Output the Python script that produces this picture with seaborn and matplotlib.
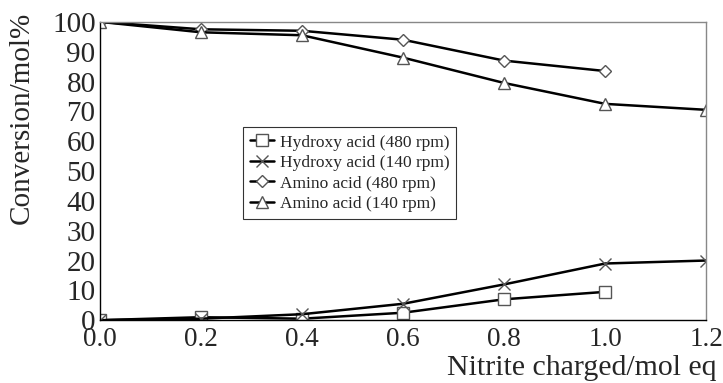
import pandas as pd
import matplotlib
matplotlib.use("Agg")
import matplotlib.pyplot as plt
import seaborn as sns

# values
nitrite = [0.0, 0.2, 0.4, 0.6, 0.8, 1.0, 1.2]
hydroxy_480 = [0, 1, 0.5, 2.5, 7, 9.5]
hydroxy_140 = [0, 0.5, 2, 5.5, 12, 19, 20]
amino_480 = [100, 97.5, 97, 94, 87, 83.5]
amino_140 = [100, 96.5, 95.5, 88, 79.5, 72.5, 70.5]

series = {
    "Hydroxy acid (480 rpm)": hydroxy_480,
    "Hydroxy acid (140 rpm)": hydroxy_140,
    "Amino acid (480 rpm)": amino_480,
    "Amino acid (140 rpm)": amino_140,
}
rows = []
for name, vals in series.items():
    for x, y in zip(nitrite, vals):
        rows.append({"x": x, "y": y, "series": name})
df = pd.DataFrame(rows)

sns.set_style("white")
plt.rcParams["font.family"] = ["Liberation Serif", "DejaVu Serif"]

fig = plt.figure(figsize=(7.23, 3.83), dpi=100)
ax = fig.add_axes([0.138, 0.164, 0.839, 0.779])

markers = {
    "Hydroxy acid (480 rpm)": "s",
    "Hydroxy acid (140 rpm)": "x",
    "Amino acid (480 rpm)": "D",
    "Amino acid (140 rpm)": "^",
}
sizes = {"s": 8, "x": 8, "D": 6.5, "^": 9}
for name in series:
    m = markers[name]
    sub = df[df["series"] == name]
    sns.lineplot(data=sub, x="x", y="y", ax=ax, color="black", lw=1.8,
                 marker=m, markersize=sizes[m], markerfacecolor="white",
                 markeredgecolor="#555555", markeredgewidth=1.0,
                 label=name, sort=False)

ax.set_xlim(0, 1.2)
ax.set_ylim(0, 100)
ax.set_xticks(nitrite)
ax.set_xticklabels([f"{v:.1f}" for v in nitrite])
ax.set_yticks(range(0, 101, 10))
ax.tick_params(axis="x", labelsize=19.5, length=0, pad=5)
ax.tick_params(axis="y", labelsize=21, length=0, pad=3)

for side in ["top", "right"]:
    ax.spines[side].set_color("#888888")
    ax.spines[side].set_linewidth(1.0)
for side in ["left", "bottom"]:
    ax.spines[side].set_color("black")
    ax.spines[side].set_linewidth(1.0)

ax.set_ylabel("Conversion/mol%", fontsize=21, va="center")
ax.yaxis.set_label_coords(-0.128, 0.678)
ax.set_xlabel("Nitrite charged/mol eq", fontsize=21.5, ha="right", va="bottom")
ax.xaxis.set_label_coords(1.016, -0.203)

leg = ax.legend(loc="upper left", bbox_to_anchor=(0.222, 0.675), fontsize=12.5,
                frameon=True, fancybox=False, edgecolor="black",
                handlelength=1.4, handletextpad=0.3, borderpad=0.4,
                labelspacing=0.25)
leg.get_frame().set_linewidth(0.8)

plt.savefig("out.png", dpi=100)
